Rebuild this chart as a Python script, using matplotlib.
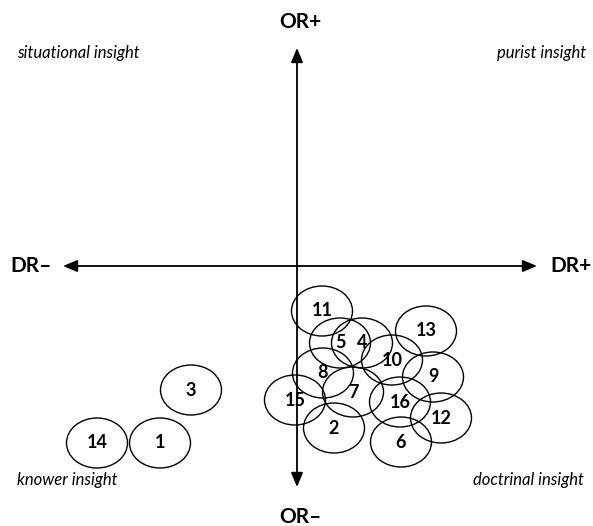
import matplotlib.pyplot as plt
from matplotlib.patches import Ellipse

# posiciones de cada caso (DR horizontal, OR vertical)
casos = ['1', '2', '3', '4', '5', '6', '7', '8', '9', '10', '11', '12', '13', '14', '15', '16']
dr = [-137, 37, -106, 65, 43, 104, 56, 26, 136, 95, 25, 144, 129, -200, -2, 103]
orr = [-177, -162, -124, -77, -77, -176, -126, -107, -111, -94, -45, -152, -65, -177, -134, -136]

ejes = ['DR–', 'DR+', 'OR+', 'OR–']
cuadrantes = ['situational insight', 'purist insight', 'knower insight', 'doctrinal insight']

plt.rcParams['font.family'] = ['Lato', 'DejaVu Sans']

fig = plt.figure(figsize=(5.93, 5.26), dpi=100)
ax = fig.add_axes([0, 0, 1, 1])
ax.set_xlim(-297, 296)
ax.set_ylim(-260, 266)
ax.axis('off')

# ejes con flechas
flecha = dict(arrowstyle='<|-|>,head_length=0.86,head_width=0.36', mutation_scale=10,
              color='black', lw=1.3, shrinkA=0, shrinkB=0)
ax.annotate('', xy=(240, 0), xytext=(-234, 0), arrowprops=flecha)
ax.annotate('', xy=(0, 218), xytext=(0, -221), arrowprops=flecha)

# elipses de cada caso
for nombre, x, y in zip(casos, dr, orr):
    ax.add_patch(Ellipse((x, y), 61, 50, fill=False, edgecolor='black', lw=1.0))
    ax.text(x, y, nombre, ha='center', va='center', fontsize=13, fontweight='bold')

# etiquetas de los ejes
ax.text(-266, 0, ejes[0], ha='center', va='center', fontsize=15, fontweight='bold')
ax.text(274, 0, ejes[1], ha='center', va='center', fontsize=15, fontweight='bold')
ax.text(3, 244, ejes[2], ha='center', va='center', fontsize=15, fontweight='bold')
ax.text(3, -251, ejes[3], ha='center', va='center', fontsize=15, fontweight='bold')

# etiquetas de los cuadrantes
ax.text(-280, 213, cuadrantes[0], ha='left', va='center', fontsize=12, style='italic')
ax.text(289, 213, cuadrantes[1], ha='right', va='center', fontsize=12, style='italic')
ax.text(-280, -214, cuadrantes[2], ha='left', va='center', fontsize=12, style='italic')
ax.text(287, -214, cuadrantes[3], ha='right', va='center', fontsize=12, style='italic')

fig.savefig('out.png', dpi=100)
